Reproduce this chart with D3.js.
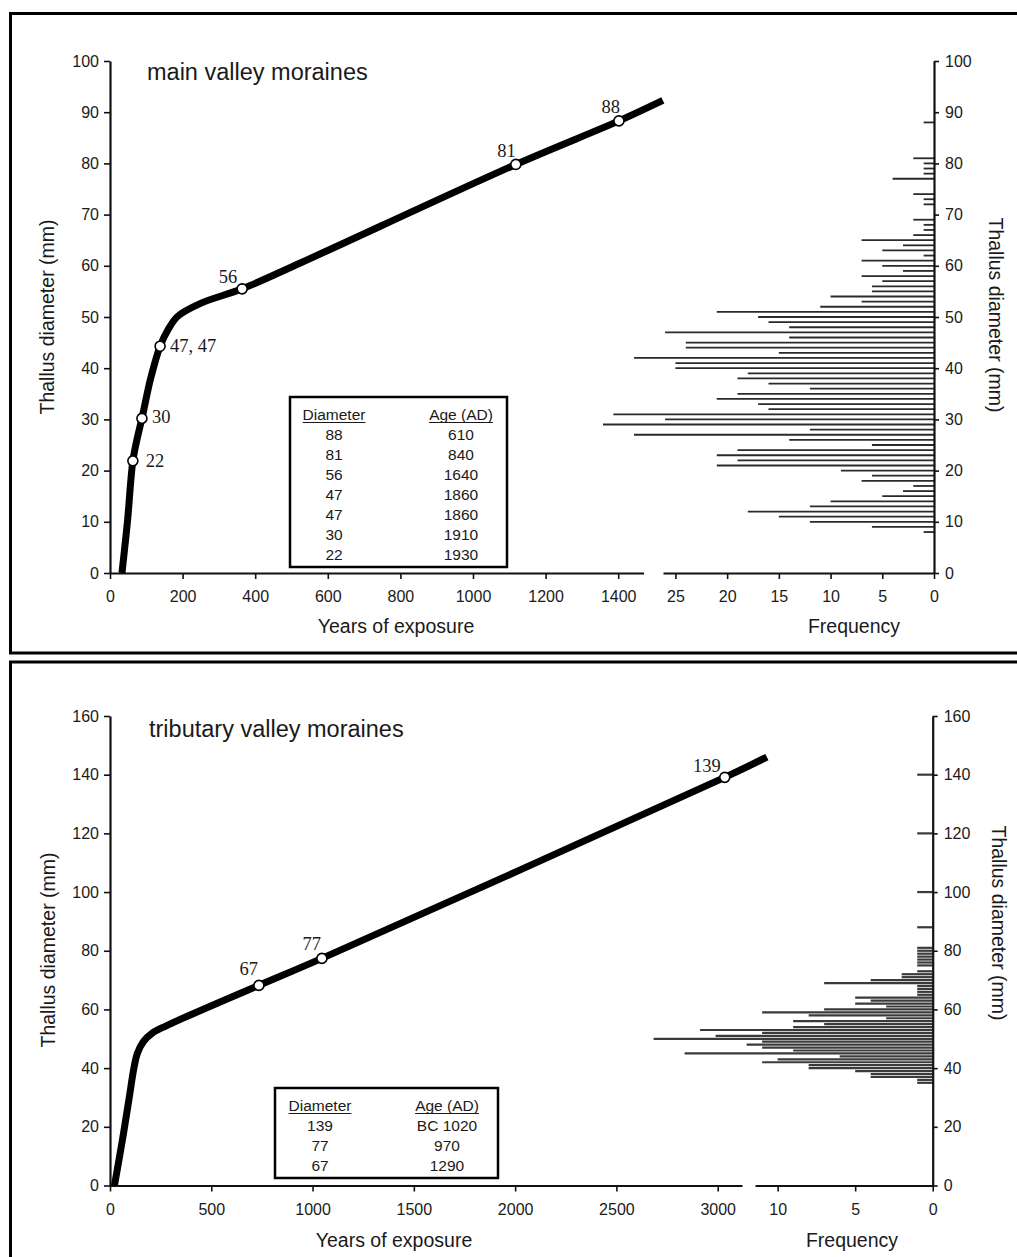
<!DOCTYPE html>
<html>
<head>
<meta charset="utf-8">
<script src="https://cdn.jsdelivr.net/npm/d3@7"></script>
<style>
  body { margin: 0; background: #fff; }
  svg { display: block; }
  text { font-family: "Liberation Sans", Arial, sans-serif; fill: #1a1a1a; }
  .serif { font-family: "Liberation Serif", "Times New Roman", serif; }
</style>
</head>
<body>
<div id="wrapper"></div>
<script>
// ---- main valley moraines ----
const mainCurveYears = [33, 48, 63, 76, 88, 112, 138, 159, 186, 251, 364, 526, 1118, 1402, 1523];
const mainCurveDiam  = [0, 10, 21.9, 26.6, 30.2, 38, 44.3, 47.4, 50.1, 52.7, 55.5, 60.6, 79.8, 88.3, 92.3];
const mainSiteLabels = ["22", "30", "47, 47", "56", "81", "88"];
const mainSiteYears  = [63, 88, 138, 364, 1118, 1402];
const mainSiteDiam   = [21.9, 30.2, 44.3, 55.5, 79.8, 88.3];
const mainHistMM   = [8, 9, 10, 11, 12, 13, 14, 15, 16, 17, 18, 19, 20, 21, 22, 23, 24, 25, 26, 27, 28, 29, 30,
                      31, 32, 33, 34, 35, 36, 37, 38, 39, 40, 41, 42, 43, 44, 45, 46, 47, 48, 49, 50, 51, 52, 53,
                      54, 55, 56, 57, 58, 59, 60, 61, 62, 63, 64, 65, 66, 67, 68, 69, 72, 73, 74, 77, 78, 79, 80, 81, 88];
const mainHistFreq = [1, 6, 12, 15, 18, 12, 10, 5, 3, 2, 7, 6, 9, 21, 19, 21, 19, 6, 14, 29, 12, 32, 26,
                      31, 16, 17, 21, 19, 12, 16, 19, 18, 25, 25, 29, 15, 24, 24, 14, 26, 14, 16, 17, 21, 11, 7,
                      10, 6, 6, 5, 7, 3, 5, 7, 1, 5, 3, 7, 2, 1, 1, 2, 1, 1, 2, 4, 1, 1, 1, 2, 1];
const mainTableDiam = ["88", "81", "56", "47", "47", "30", "22"];
const mainTableAge  = ["610", "840", "1640", "1860", "1860", "1910", "1930"];
const mainYearTicks = [0, 200, 400, 600, 800, 1000, 1200, 1400];
const mainFreqTicks = [25, 20, 15, 10, 5, 0];
const mainDiamTicks = [0, 10, 20, 30, 40, 50, 60, 70, 80, 90, 100];

// ---- tributary valley moraines ----
const tribCurveYears = [22, 60, 95, 118, 135, 165, 210, 280, 735, 1046, 3035, 3243];
const tribCurveDiam  = [0, 15, 30, 40, 45, 49, 52, 54.5, 68.2, 77.4, 139.1, 146];
const tribSiteLabels = ["67", "77", "139"];
const tribSiteYears  = [735, 1046, 3035];
const tribSiteDiam   = [68.2, 77.4, 139.1];
const tribHistMM   = [35, 36, 37, 38, 39, 40, 41, 42, 43, 44, 45, 46, 47, 48, 49, 50, 51, 52, 53, 54, 55, 56,
                      57, 58, 59, 60, 61, 62, 63, 64, 65, 66, 67, 68, 69, 70, 71, 72, 73, 75, 76, 77, 78, 79,
                      80, 81, 88, 100, 120, 140];
const tribHistFreq = [1, 1, 4, 4, 5, 8, 8, 11, 10, 6, 16, 9, 11, 12, 11, 18, 14, 11, 15, 9, 7, 9,
                      3, 8, 11, 7, 3, 5, 4, 5, 1, 1, 1, 1, 7, 4, 2, 2, 1, 1, 1, 1, 1, 1,
                      1, 1, 1, 1, 1, 1];
const tribTableDiam = ["139", "77", "67"];
const tribTableAge  = ["BC 1020", "970", "1290"];
const tribYearTicks = [0, 500, 1000, 1500, 2000, 2500, 3000];
const tribFreqTicks = [10, 5, 0];
const tribDiamTicks = [0, 20, 40, 60, 80, 100, 120, 140, 160];

// where each site label sits relative to its marker [dx, dy, anchor]
const labelOffsets = {
    "22": [13, 6, "start"], "30": [10, 5, "start"], "47, 47": [10, 6, "start"],
    "56": [-5, -6, "end"], "81": [0, -7, "end"], "88": [1, -8, "end"],
    "67": [-1, -10, "end"], "77": [-1, -8, "end"], "139": [-4, -5, "end"]
};

const svg = d3.select("#wrapper").append("svg")
    .attr("width", 1017)
    .attr("height", 1257);

// panel frames
svg.append("rect").attr("x", 10.5).attr("y", 13.5).attr("width", 1030).attr("height", 639.5)
    .attr("fill", "none").attr("stroke", "#000").attr("stroke-width", 3);
svg.append("rect").attr("x", 10.5).attr("y", 662).attr("width", 1030).attr("height", 640)
    .attr("fill", "none").attr("stroke", "#000").attr("stroke-width", 3);

function styleAxis(g) {
    g.select(".domain").attr("stroke", "#111").attr("stroke-width", 2.2);
    g.selectAll(".tick line").attr("stroke", "#111").attr("stroke-width", 1.6);
    g.selectAll(".tick text").attr("font-size", 16).attr("fill", "#1a1a1a")
        .attr("font-family", '"Liberation Sans", Arial, sans-serif');
}

function drawPanel(p) {
    const yScale = d3.scaleLinear().domain([0, p.yMax]).range(p.yRange);
    const xScale = d3.scaleLinear().domain([0, p.xMax]).range(p.xRange);
    const fScale = d3.scaleLinear().domain([0, p.fMax]).range(p.fRange);
    const fmt = d3.format("d");

    // histogram bars
    const hist = p.histMM.map((m, i) => ({ mm: m, f: p.histFreq[i] }));
    svg.append("g").selectAll("line").data(hist).join("line")
        .attr("x1", fScale(0))
        .attr("x2", d => fScale(d.f))
        .attr("y1", d => yScale(d.mm))
        .attr("y2", d => yScale(d.mm))
        .attr("stroke", p.histColor)
        .attr("stroke-width", p.histWidth);

    // axes
    svg.append("g").attr("transform", `translate(${p.xRange[0]},0)`)
        .call(d3.axisLeft(yScale).tickValues(p.diamTicks).tickFormat(fmt).tickSize(6).tickPadding(5).tickSizeOuter(0))
        .call(styleAxis);
    svg.append("g").attr("transform", `translate(0,${p.yRange[0]})`)
        .call(d3.axisBottom(xScale).tickValues(p.yearTicks).tickFormat(fmt).tickSize(6).tickPadding(12).tickSizeOuter(0))
        .call(styleAxis);
    svg.append("g").attr("transform", `translate(0,${p.yRange[0]})`)
        .call(d3.axisBottom(fScale).tickValues(p.freqTicks).tickFormat(fmt).tickSize(6).tickPadding(12).tickSizeOuter(0))
        .call(styleAxis);
    svg.append("g").attr("transform", `translate(${p.fRange[0]},0)`)
        .call(d3.axisRight(yScale).tickValues(p.diamTicks).tickFormat(fmt).tickSize(5).tickPadding(6).tickSizeOuter(0))
        .call(styleAxis);

    // growth curve
    const curve = p.curveYears.map((y, i) => [y, p.curveDiam[i]]);
    const lineGenerator = d3.line()
        .x(d => xScale(d[0]))
        .y(d => yScale(d[1]))
        .curve(d3.curveCatmullRom.alpha(0.5));
    svg.append("path")
        .attr("d", lineGenerator(curve))
        .attr("fill", "none")
        .attr("stroke", "#000")
        .attr("stroke-width", 7)
        .attr("stroke-linecap", "butt");

    // dated sites
    p.siteLabels.forEach((lab, i) => {
        const cx = xScale(p.siteYears[i]);
        const cy = yScale(p.siteDiam[i]);
        svg.append("circle").attr("cx", cx).attr("cy", cy).attr("r", 5)
            .attr("fill", "#fff").attr("stroke", "#000").attr("stroke-width", 1.6);
        const off = labelOffsets[lab];
        svg.append("text").attr("class", "serif")
            .attr("x", cx + off[0]).attr("y", cy + off[1])
            .attr("text-anchor", off[2])
            .attr("font-size", 18.5)
            .text(lab);
    });

    // panel title
    svg.append("text").attr("x", p.titleX).attr("y", p.titleY)
        .attr("font-size", 23.5).text(p.title);

    // axis titles
    svg.append("text").attr("x", p.xLabelX).attr("y", p.xLabelY)
        .attr("text-anchor", "middle").attr("font-size", 19.5).text("Years of exposure");
    svg.append("text").attr("x", p.fLabelX).attr("y", p.xLabelY)
        .attr("text-anchor", "middle").attr("font-size", 19.5).text("Frequency");
    svg.append("text")
        .attr("transform", `translate(${p.yLabelX},${p.yLabelC}) rotate(-90)`)
        .attr("text-anchor", "middle").attr("font-size", 19.5).text("Thallus diameter (mm)");
    svg.append("text")
        .attr("transform", `translate(${p.rLabelX},${p.rLabelC}) rotate(90)`)
        .attr("text-anchor", "middle").attr("font-size", 19.5).text("Thallus diameter (mm)");

    // table of dated moraines
    const t = p.table;
    svg.append("rect").attr("x", t.x).attr("y", t.y).attr("width", t.w).attr("height", t.h)
        .attr("fill", "#fff").attr("stroke", "#000").attr("stroke-width", 2.5);
    [["Diameter", t.c1], ["Age (AD)", t.c2]].forEach(h => {
        const tx = svg.append("text").attr("x", h[1]).attr("y", t.head)
            .attr("text-anchor", "middle").attr("font-size", 15.5).text(h[0]);
        const w = tx.node().getComputedTextLength();
        svg.append("line").attr("x1", h[1] - w / 2).attr("x2", h[1] + w / 2)
            .attr("y1", t.head + 2.5).attr("y2", t.head + 2.5)
            .attr("stroke", "#1a1a1a").attr("stroke-width", 1.2);
    });
    p.tableDiam.forEach((d, i) => {
        svg.append("text").attr("x", t.c1).attr("y", t.row0 + i * t.step)
            .attr("text-anchor", "middle").attr("font-size", 15.5).text(d);
        svg.append("text").attr("x", t.c2).attr("y", t.row0 + i * t.step)
            .attr("text-anchor", "middle").attr("font-size", 15.5).text(p.tableAge[i]);
    });
}

drawPanel({
    yMax: 100, yRange: [573, 61],
    xMax: 1470, xRange: [110, 643.6],
    fMax: 26.2, fRange: [934, 663],
    histMM: mainHistMM, histFreq: mainHistFreq, histColor: "#2a2a2a", histWidth: 1.8,
    diamTicks: mainDiamTicks, yearTicks: mainYearTicks, freqTicks: mainFreqTicks,
    curveYears: mainCurveYears, curveDiam: mainCurveDiam,
    siteLabels: mainSiteLabels, siteYears: mainSiteYears, siteDiam: mainSiteDiam,
    title: "main valley moraines", titleX: 147, titleY: 80,
    xLabelX: 396, fLabelX: 854, xLabelY: 633,
    yLabelX: 54, yLabelC: 317, rLabelX: 989, rLabelC: 315,
    table: { x: 290, y: 397, w: 217, h: 170, c1: 334, c2: 461, head: 420, row0: 440, step: 20 },
    tableDiam: mainTableDiam, tableAge: mainTableAge
});

drawPanel({
    yMax: 160, yRange: [1185.5, 716],
    xMax: 3120, xRange: [110, 742],
    fMax: 11.46, fRange: [932.7, 755],
    histMM: tribHistMM, histFreq: tribHistFreq, histColor: "#3a3a3a", histWidth: 2.2,
    diamTicks: tribDiamTicks, yearTicks: tribYearTicks, freqTicks: tribFreqTicks,
    curveYears: tribCurveYears, curveDiam: tribCurveDiam,
    siteLabels: tribSiteLabels, siteYears: tribSiteYears, siteDiam: tribSiteDiam,
    title: "tributary valley moraines", titleX: 149, titleY: 737,
    xLabelX: 394, fLabelX: 852, xLabelY: 1247,
    yLabelX: 55, yLabelC: 950, rLabelX: 992, rLabelC: 923,
    table: { x: 275, y: 1088, w: 223, h: 90, c1: 320, c2: 447, head: 1111, row0: 1131, step: 20 },
    tableDiam: tribTableDiam, tableAge: tribTableAge
});
</script>
</body>
</html>
